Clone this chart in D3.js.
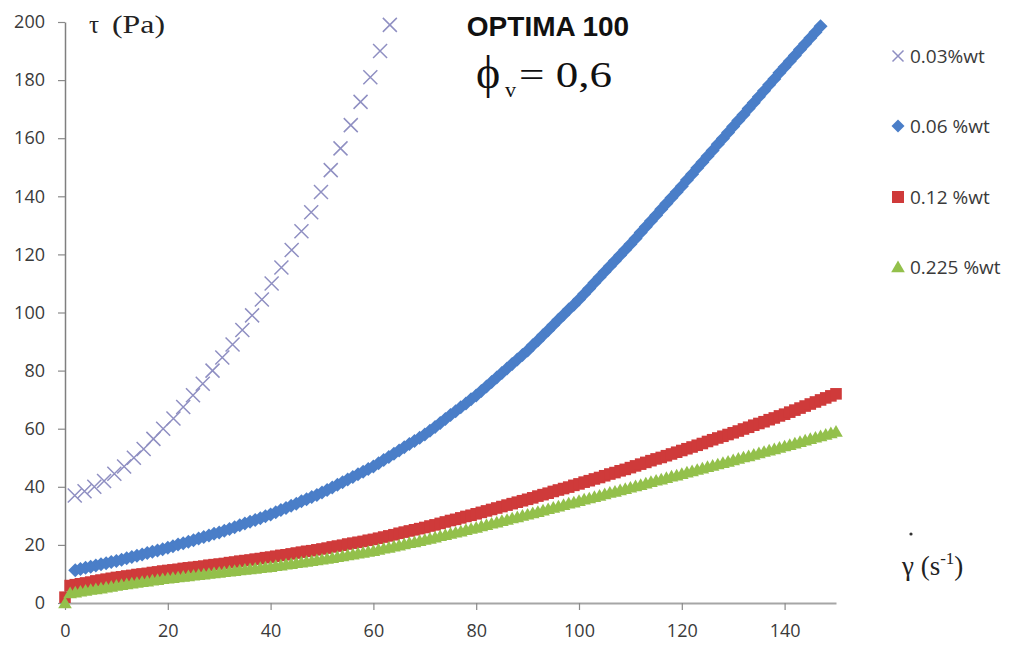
<!DOCTYPE html>
<html><head><meta charset="utf-8">
<script src="https://cdn.jsdelivr.net/npm/d3@7"></script>
<style>body{margin:0;background:#fff}svg{display:block}</style>
</head><body>
<svg id="chart" width="1023" height="646"></svg>
<script>
// ---- data ----
const xTickValues = [0, 20, 40, 60, 80, 100, 120, 140];
const yTickValues = [0, 20, 40, 60, 80, 100, 120, 140, 160, 180, 200];
const seriesNames = ["0.03%wt", "0.06 %wt", "0.12 %wt", "0.225 %wt"];

// 0.03 %wt (x markers)
const rate003 = [1.9, 3.8, 5.7, 7.6, 9.6, 11.5, 13.4, 15.3, 17.2, 19.1, 21.1, 23.0, 24.9, 26.8, 28.7, 30.6, 32.6, 34.5, 36.4, 38.3, 40.2, 42.1, 44.1, 46.0, 47.9, 49.8, 51.7, 53.6, 55.6, 57.5, 59.4, 61.3, 63.2];
const tau003 = [37, 38.5, 40, 42, 44.5, 47, 50, 53, 56.5, 60, 63.5, 67.5, 71.5, 75.5, 80, 84.5, 89, 94, 99, 104.5, 110, 115.5, 121.5, 128, 134.5, 141.5, 149, 156.5, 164.5, 172.5, 181, 190, 199];

// shared shear-rate values for the dense series
const rate = [0, 1, 2, 3, 4, 5, 6, 7, 8, 9, 10, 11, 12, 13, 14, 15, 16, 17, 18, 19, 20, 21, 22, 23, 24, 25, 26, 27, 28, 29, 30, 31, 32, 33, 34, 35, 36, 37, 38, 39, 40, 41, 42, 43, 44, 45, 46, 47, 48, 49, 50, 51, 52, 53, 54, 55, 56, 57, 58, 59, 60, 61, 62, 63, 64, 65, 66, 67, 68, 69, 70, 71, 72, 73, 74, 75, 76, 77, 78, 79, 80, 81, 82, 83, 84, 85, 86, 87, 88, 89, 90, 91, 92, 93, 94, 95, 96, 97, 98, 99, 100, 101, 102, 103, 104, 105, 106, 107, 108, 109, 110, 111, 112, 113, 114, 115, 116, 117, 118, 119, 120, 121, 122, 123, 124, 125, 126, 127, 128, 129, 130, 131, 132, 133, 134, 135, 136, 137, 138, 139, 140, 141, 142, 143, 144, 145, 146, 147, 148, 149, 150];

const tau006 = [null, null, 11.3, 11.7, 12.1, 12.5, 12.9, 13.3, 13.7, 14.1, 14.5, 14.9, 15.4, 15.8, 16.3, 16.7, 17.2, 17.6, 18.1, 18.5, 19.0, 19.5, 20.1, 20.6, 21.1, 21.6, 22.2, 22.7, 23.2, 23.8, 24.3, 24.9, 25.5, 26.1, 26.8, 27.4, 28.0, 28.6, 29.2, 29.9, 30.5, 31.2, 32.0, 32.7, 33.5, 34.2, 35.0, 35.7, 36.5, 37.2, 38.0, 38.9, 39.8, 40.7, 41.6, 42.5, 43.4, 44.3, 45.2, 46.1, 47.0, 48.1, 49.2, 50.3, 51.4, 52.5, 53.6, 54.7, 55.8, 56.9, 58.0, 59.3, 60.6, 62.0, 63.3, 64.7, 66.0, 67.4, 68.7, 70.1, 71.4, 73.0, 74.5, 76.1, 77.6, 79.2, 80.7, 82.3, 83.8, 85.4, 86.9, 88.7, 90.4, 92.2, 93.9, 95.7, 97.5, 99.2, 101.0, 102.7, 104.5, 106.4, 108.3, 110.2, 112.1, 114.0, 115.9, 117.8, 119.7, 121.6, 123.5, 125.5, 127.5, 129.5, 131.5, 133.5, 135.5, 137.5, 139.5, 141.5, 143.5, 145.6, 147.6, 149.7, 151.7, 153.8, 155.8, 157.9, 159.9, 162.0, 164.0, 166.1, 168.1, 170.2, 172.2, 174.3, 176.3, 178.4, 180.4, 182.5, 184.5, 186.5, 188.5, 190.5, 192.5, 194.5, 196.5, 198.5, null, null, null];

const tau012 = [2.0, 6.0, 6.3, 6.6, 6.9, 7.2, 7.6, 7.9, 8.2, 8.5, 8.8, 9.0, 9.3, 9.5, 9.8, 10.0, 10.2, 10.5, 10.7, 11.0, 11.2, 11.4, 11.6, 11.9, 12.1, 12.3, 12.5, 12.7, 13.0, 13.2, 13.4, 13.6, 13.9, 14.1, 14.4, 14.6, 14.8, 15.1, 15.3, 15.6, 15.8, 16.1, 16.4, 16.6, 16.9, 17.2, 17.5, 17.8, 18.0, 18.3, 18.6, 18.9, 19.3, 19.6, 19.9, 20.3, 20.6, 20.9, 21.2, 21.6, 21.9, 22.3, 22.7, 23.1, 23.5, 24.0, 24.4, 24.8, 25.2, 25.6, 26.0, 26.5, 26.9, 27.4, 27.9, 28.4, 28.8, 29.3, 29.8, 30.2, 30.7, 31.2, 31.7, 32.2, 32.7, 33.2, 33.7, 34.2, 34.7, 35.2, 35.7, 36.2, 36.8, 37.3, 37.8, 38.4, 38.9, 39.4, 39.9, 40.5, 41.0, 41.6, 42.1, 42.7, 43.2, 43.8, 44.4, 44.9, 45.5, 46.0, 46.6, 47.2, 47.8, 48.4, 49.0, 49.6, 50.1, 50.7, 51.3, 51.9, 52.5, 53.1, 53.7, 54.3, 54.9, 55.6, 56.2, 56.8, 57.4, 58.0, 58.6, 59.2, 59.9, 60.5, 61.2, 61.8, 62.4, 63.1, 63.7, 64.4, 65.0, 65.7, 66.4, 67.1, 67.8, 68.5, 69.2, 69.9, 70.6, 71.3, 72.0];

const tau0225 = [0, 3.4, 3.7, 4.0, 4.3, 4.6, 4.8, 5.1, 5.4, 5.7, 6.0, 6.3, 6.5, 6.8, 7.0, 7.3, 7.5, 7.8, 8.0, 8.3, 8.5, 8.7, 8.9, 9.1, 9.3, 9.5, 9.7, 9.9, 10.1, 10.3, 10.5, 10.7, 10.9, 11.1, 11.3, 11.5, 11.7, 11.9, 12.1, 12.3, 12.5, 12.8, 13.0, 13.3, 13.5, 13.8, 14.0, 14.3, 14.5, 14.8, 15.0, 15.3, 15.6, 15.9, 16.2, 16.5, 16.8, 17.1, 17.4, 17.7, 18.0, 18.4, 18.8, 19.1, 19.5, 19.9, 20.3, 20.7, 21.0, 21.4, 21.8, 22.2, 22.6, 23.1, 23.5, 23.9, 24.3, 24.7, 25.2, 25.6, 26.0, 26.5, 26.9, 27.4, 27.8, 28.3, 28.7, 29.2, 29.6, 30.1, 30.5, 31.0, 31.4, 31.9, 32.4, 32.9, 33.3, 33.8, 34.3, 34.7, 35.2, 35.7, 36.1, 36.6, 37.0, 37.5, 38.0, 38.4, 38.9, 39.3, 39.8, 40.3, 40.7, 41.2, 41.7, 42.2, 42.6, 43.1, 43.6, 44.0, 44.5, 45.0, 45.4, 45.9, 46.4, 46.9, 47.3, 47.8, 48.3, 48.7, 49.2, 49.7, 50.2, 50.6, 51.1, 51.6, 52.1, 52.6, 53.0, 53.5, 54.0, 54.5, 55.0, 55.5, 56.0, 56.5, 57.0, 57.5, 58.0, 58.5, 59.0];

// ---- chart ----
const svg = d3.select("#chart");
const x = d3.scaleLinear().domain([0, 150]).range([65, 836]);
const y = d3.scaleLinear().domain([0, 200]).range([603, 22]);

const tickFont = "'Open Sans', 'DejaVu Sans', sans-serif";

// y axis
const gy = svg.append("g").attr("transform", `translate(${x(0)},0)`)
  .call(d3.axisLeft(y).tickValues(yTickValues).tickSize(7).tickSizeOuter(0).tickPadding(13));
gy.select(".domain").attr("stroke", "#7f7f7f").attr("stroke-width", 1.5);
gy.selectAll(".tick line").attr("stroke", "#8a8a8a").attr("stroke-width", 1.2);
gy.selectAll(".tick text").attr("font-family", tickFont).attr("font-size", 18).attr("fill", "#3a3a3a");

// x axis
const gx = svg.append("g").attr("transform", `translate(0,${y(0)})`)
  .call(d3.axisBottom(x).tickValues(xTickValues).tickSize(7).tickSizeOuter(0).tickPadding(14));
gx.select(".domain").attr("stroke", "#a6a6a6").attr("stroke-width", 2);
gx.selectAll(".tick line").attr("stroke", "#8a8a8a").attr("stroke-width", 1.2);
gx.selectAll(".tick text").attr("font-family", tickFont).attr("font-size", 18).attr("fill", "#3a3a3a");

// marker shapes
const diamond = r => `M0,${-r}L${r},0L0,${r}L${-r},0Z`;
const square = r => `M${-r},${-r}H${r}V${r}H${-r}Z`;
const triangle = r => `M0,${-r}L${r * 1.05},${r * 0.8}L${-r * 1.05},${r * 0.8}Z`;
const cross = r => `M${-r},${-r}L${r},${r}M${-r},${r}L${r},${-r}`;

const colors = { c003: "#8f8fc2", c006: "#4a7ec8", c012: "#cf3a3a", c0225: "#93c04b" };

function pts(xs, ys) {
  return xs.map((v, i) => ({ x: v, y: ys[i] })).filter(d => d.y !== null);
}

// 0.03 %wt crosses
svg.append("g").selectAll("path").data(pts(rate003, tau003)).join("path")
  .attr("transform", d => `translate(${x(d.x)},${y(d.y)})`)
  .attr("d", cross(7)).attr("fill", "none").attr("stroke", colors.c003).attr("stroke-width", 1.5);

// 0.06 %wt diamonds
svg.append("g").selectAll("path").data(pts(rate, tau006)).join("path")
  .attr("transform", d => `translate(${x(d.x)},${y(d.y)})`)
  .attr("d", diamond(7)).attr("fill", colors.c006);

// 0.12 %wt squares
svg.append("g").selectAll("path").data(pts(rate, tau012)).join("path")
  .attr("transform", d => `translate(${x(d.x)},${y(d.y)})`)
  .attr("d", square(5.8)).attr("fill", colors.c012);

// 0.225 %wt triangles
svg.append("g").selectAll("path").data(pts(rate, tau0225)).join("path")
  .attr("transform", d => `translate(${x(d.x)},${y(d.y)})`)
  .attr("d", triangle(6.5)).attr("fill", colors.c0225);

// titles
svg.append("text").attr("x", 548).attr("y", 36).attr("text-anchor", "middle")
  .attr("font-family", "'Liberation Sans', Arial, sans-serif").attr("font-weight", "bold")
  .attr("font-size", 28).attr("fill", "#111").text("OPTIMA 100");

const serif = "'Liberation Serif', 'DejaVu Serif', serif";
svg.append("text").attr("x", 476).attr("y", 88).attr("font-family", serif).attr("font-size", 46).attr("fill", "#111").text("ϕ");
svg.append("text").attr("x", 505).attr("y", 97).attr("font-family", serif).attr("font-size", 22).attr("fill", "#111").text("v");
svg.append("text").attr("x", 519).attr("y", 87).attr("font-family", serif).attr("font-size", 36).attr("fill", "#111")
  .attr("textLength", 93).attr("lengthAdjust", "spacingAndGlyphs").text("= 0,6");

// y axis label
svg.append("text").attr("x", 89).attr("y", 33).attr("font-family", serif).attr("font-size", 25).attr("fill", "#222").text("τ");
svg.append("text").attr("x", 112).attr("y", 33).attr("font-family", serif).attr("font-size", 25).attr("fill", "#222")
  .attr("textLength", 53).attr("lengthAdjust", "spacingAndGlyphs").text("(Pa)");

// x axis label
svg.append("circle").attr("cx", 911).attr("cy", 534).attr("r", 1.6).attr("fill", "#333");
const xl = svg.append("text").attr("x", 902).attr("y", 575).attr("font-family", serif).attr("font-size", 27).attr("fill", "#222");
xl.append("tspan").text("γ (s");
xl.append("tspan").attr("font-size", 17).attr("dy", -11).text("-1");
xl.append("tspan").attr("dy", 11).text(")");

// legend
const legendY = [56, 126, 197, 267];
const legendShapes = [cross(5.5), diamond(6.5), square(6), triangle(6.5)];
const legendColors = [colors.c003, colors.c006, colors.c012, colors.c0225];
const lg = svg.append("g");
seriesNames.forEach((name, i) => {
  const p = lg.append("path").attr("transform", `translate(898,${legendY[i]})`).attr("d", legendShapes[i]);
  if (i === 0) p.attr("fill", "none").attr("stroke", legendColors[i]).attr("stroke-width", 1.5);
  else p.attr("fill", legendColors[i]);
  lg.append("text").attr("x", 910).attr("y", legendY[i]).attr("dy", "0.35em")
    .attr("font-family", tickFont).attr("font-size", 19).attr("fill", "#3a3a3a").text(name);
});
</script>
</body></html>
